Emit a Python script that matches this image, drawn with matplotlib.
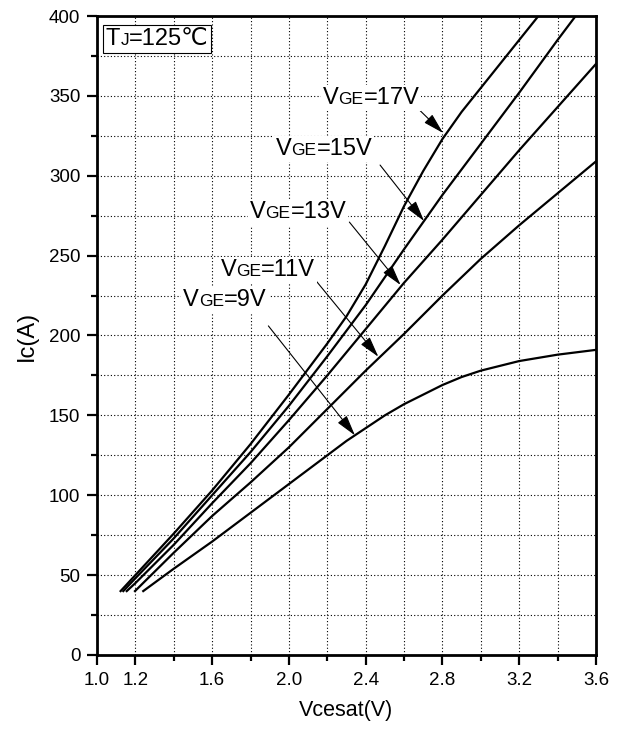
import matplotlib
matplotlib.use("Agg")
import matplotlib.pyplot as plt
from matplotlib.offsetbox import TextArea, HPacker, AnnotationBbox
from matplotlib.ticker import FixedLocator, MultipleLocator

plt.rcParams['font.family'] = ['Liberation Sans', 'DejaVu Sans', 'Noto Sans CJK SC']

# ---- data ----
v17_x = [1.123, 1.2, 1.4, 1.6, 1.8, 2.0, 2.2, 2.3, 2.4, 2.5, 2.6, 2.7, 2.8, 2.9, 3.0, 3.2, 3.3]
v17_y = [40, 50, 76, 103, 132, 163, 195, 212, 232, 256, 281, 303, 323, 340, 355, 385, 400]
v15_x = [1.137, 1.2, 1.4, 1.6, 1.8, 2.0, 2.2, 2.4, 2.6, 2.8, 3.0, 3.2, 3.4, 3.494]
v15_y = [40, 48, 73, 100, 127, 156, 187, 219, 254, 288, 320, 352, 385, 400]
v13_x = [1.155, 1.2, 1.4, 1.6, 1.8, 2.0, 2.2, 2.4, 2.6, 2.8, 3.0, 3.2, 3.4, 3.6]
v13_y = [40, 45, 69, 95, 120, 147, 175, 204, 233, 260, 288, 316, 343, 370]
v11_x = [1.198, 1.4, 1.6, 1.8, 2.0, 2.2, 2.4, 2.6, 2.8, 3.0, 3.2, 3.4, 3.6]
v11_y = [40, 64, 87, 108, 130, 154, 178, 201, 225, 248, 269, 289, 309]
v9_x = [1.241, 1.4, 1.6, 1.8, 2.0, 2.2, 2.3, 2.4, 2.5, 2.6, 2.8, 2.9, 3.0, 3.2, 3.4, 3.6]
v9_y = [40, 54, 71, 89, 107, 125, 134, 142, 150, 157, 169, 174, 178, 184, 188, 191]

curve_labels = ["17V", "15V", "13V", "11V", "9V"]
label_pos = [(2.428, 348.7), (2.183, 317.0), (2.047, 277.0), (1.891, 241.0), (1.667, 222.0)]
arrow_from = [(2.673, 342.0), (2.475, 306.7), (2.315, 271.0), (2.145, 233.7), (1.893, 206.0)]
arrow_to = [(2.803, 326.8), (2.704, 271.7), (2.582, 231.6), (2.466, 186.7), (2.344, 137.5)]

x_major = [1.0, 1.2, 1.6, 2.0, 2.4, 2.8, 3.2, 3.6]
x_minor = [1.4, 1.8, 2.2, 2.6, 3.0, 3.4]

fig = plt.figure(figsize=(6.19, 7.31), dpi=100)
ax = fig.add_axes([0.1567, 0.1040, 0.8061, 0.8741])

for xs, ys in [(v17_x, v17_y), (v15_x, v15_y), (v13_x, v13_y), (v11_x, v11_y), (v9_x, v9_y)]:
    ax.plot(xs, ys, color='black', lw=1.6, solid_joinstyle='round', zorder=3)

ax.set_xlim(1.0, 3.6)
ax.set_ylim(0, 400)
ax.xaxis.set_major_locator(FixedLocator(x_major))
ax.xaxis.set_minor_locator(FixedLocator(x_minor))
ax.set_xticklabels([f"{v:.1f}" for v in x_major])
ax.yaxis.set_major_locator(MultipleLocator(50))
ax.yaxis.set_minor_locator(MultipleLocator(25))

ax.grid(which='both', color='black', linestyle=(0, (1, 2)), lw=0.8, zorder=1)
ax.set_axisbelow(True)

for s in ax.spines.values():
    s.set_linewidth(2.0)
ax.tick_params(which='major', direction='out', length=7, width=1.6, labelsize=13.5, pad=5)
ax.tick_params(which='minor', direction='out', length=4, width=1.6)
ax.tick_params(top=False, right=False, which='both')

ax.set_xlabel("Vcesat(V)", fontsize=15.5, labelpad=8)
ax.set_ylabel("Ic(A)", fontsize=17, labelpad=8)


def mixed(parts):
    areas = [TextArea(t, textprops=dict(fontsize=fs, color='black')) for t, fs in parts]
    return HPacker(children=areas, align="baseline", pad=0, sep=0)


for lab, pos, a0, a1 in zip(curve_labels, label_pos, arrow_from, arrow_to):
    ax.annotate('', xy=a1, xytext=a0,
                arrowprops=dict(arrowstyle='-|>,head_length=0.8,head_width=0.22', color='black',
                                lw=0.8, shrinkA=0, shrinkB=0, mutation_scale=16), zorder=4)
    box = mixed([("V", 17), ("GE", 12.5), ("=" + lab, 17)])
    ab = AnnotationBbox(box, pos, xycoords='data', frameon=True, pad=0.15,
                        bboxprops=dict(facecolor='white', edgecolor='none'), zorder=5)
    ax.add_artist(ab)

tj = mixed([("T", 17), ("J", 12.5), ("=125℃", 17)])
ab = AnnotationBbox(tj, (0.018, 0.981), xycoords='axes fraction', box_alignment=(0, 1),
                    frameon=True, pad=0.2,
                    bboxprops=dict(facecolor='white', edgecolor='black', lw=0.8), zorder=5)
ax.add_artist(ab)

fig.savefig("out.png", dpi=100)
